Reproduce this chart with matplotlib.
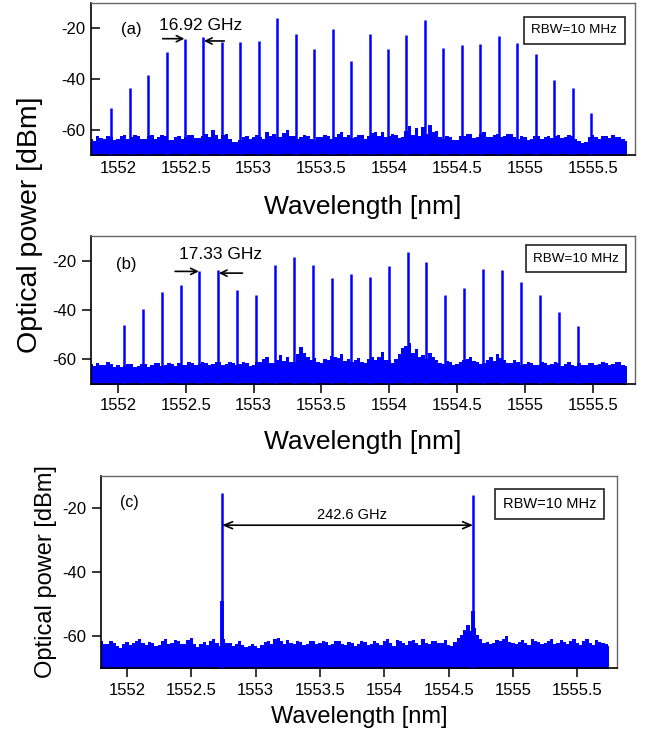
import numpy as np
import matplotlib
matplotlib.use("Agg")
import matplotlib.pyplot as plt

plt.rcParams['font.family'] = ['Liberation Sans', 'DejaVu Sans']

# comb lines, panel (a) 16.92 GHz spacing
peaks_a_nm = [1551.946, 1552.086, 1552.221, 1552.358, 1552.493, 1552.630, 1552.767,
              1552.902, 1553.039, 1553.174, 1553.311, 1553.446, 1553.583, 1553.718,
              1553.855, 1553.990, 1554.125, 1554.262, 1554.400, 1554.534, 1554.672,
              1554.806, 1554.944, 1555.081, 1555.216, 1555.353, 1555.488]
peaks_a_db = [-51.5, -43.6, -38.5, -29.3, -24.1, -23.4, -25.3, -25.3, -25.0, -16.0,
              -22.1, -28.3, -20.1, -33.0, -22.4, -28.1, -22.8, -16.8, -27.7, -26.4,
              -26.1, -23.2, -25.7, -30.3, -40.5, -43.6, -53.6]

# panel (b) 17.33 GHz spacing
peaks_b_nm = [1552.044, 1552.184, 1552.323, 1552.462, 1552.600, 1552.741, 1552.881,
              1553.018, 1553.157, 1553.297, 1553.436, 1553.578, 1553.718, 1553.857,
              1553.995, 1554.135, 1554.274, 1554.414, 1554.553, 1554.690, 1554.832,
              1554.971, 1555.111, 1555.250, 1555.390]
peaks_b_db = [-46.0, -39.7, -32.9, -30.1, -24.2, -23.9, -32.1, -34.1, -21.9, -18.7,
              -22.0, -27.0, -25.3, -26.5, -22.2, -16.6, -20.7, -34.1, -31.2, -23.4,
              -23.9, -28.8, -33.9, -40.7, -46.5]

# panel (c) two lines 242.6 GHz apart
peaks_c_nm = [1552.739, 1554.690]
peaks_c_db = [-15.3, -15.7]
pedestal_c_db = [-49.0, -52.0]

# noise floor (top of trace) on a 0.025 nm grid, 1551.80 ... 1555.75
noise_a = [-63.5, -64.6, -62.3, -63.2, -63.8, -62.4, -62.8, -64.2, -63.5, -62.6,
           -62.0, -63.6, -63.0, -62.1, -62.5, -63.8, -63.5, -62.4, -62.2, -63.5,
           -63.0, -62.0, -62.4, -63.9, -64.0, -62.8, -62.6, -63.7, -63.0, -62.2,
           -62.0, -63.4, -63.2, -62.5, -61.5, -62.8, -60.0, -62.2, -63.5, -62.0,
           -61.5, -63.8, -64.8, -65.0, -64.0, -62.8, -62.5, -63.6, -63.0, -62.0,
           -62.8, -63.5, -61.0, -62.4, -61.8, -63.0, -63.0, -61.4, -60.0, -62.6,
           -62.5, -63.6, -63.0, -62.2, -62.5, -63.5, -64.0, -63.0, -63.0, -62.0,
           -62.5, -63.6, -62.8, -61.8, -61.0, -62.8, -62.0, -63.4, -63.0, -62.0,
           -62.0, -63.5, -62.5, -61.2, -60.8, -62.4, -61.0, -62.8, -62.5, -61.8,
           -62.0, -63.4, -63.0, -60.5, -58.5, -62.0, -59.5, -62.5, -59.0, -61.5,
           -58.0, -61.0, -60.5, -62.8, -63.5, -62.5, -62.8, -63.9, -64.0, -62.6,
           -62.5, -61.6, -61.5, -63.2, -62.8, -61.6, -61.0, -62.9, -63.0, -62.0,
           -61.5, -63.0, -62.5, -61.6, -61.8, -63.0, -63.5, -62.4, -63.0, -63.9,
           -63.5, -62.4, -62.5, -63.5, -63.0, -62.3, -63.2, -62.4, -62.0, -63.3,
           -63.0, -62.2, -62.5, -63.8, -64.5, -65.2, -65.0, -63.0, -62.0, -63.0,
           -63.5, -62.4, -62.5, -63.4, -62.0, -62.8, -63.0, -63.6, -64.5]
noise_b = [-62.0, -63.0, -61.5, -62.6, -62.3, -61.4, -62.0, -63.2, -62.5, -63.4,
           -63.0, -62.2, -62.0, -63.3, -62.8, -62.0, -62.0, -63.1, -62.5, -61.6,
           -61.8, -62.9, -62.6, -61.8, -62.0, -63.0, -61.5, -62.4, -62.5, -61.2,
           -61.5, -62.6, -62.2, -61.4, -61.6, -62.5, -62.0, -61.2, -61.0, -62.3,
           -62.0, -61.0, -61.5, -62.4, -62.2, -61.3, -61.8, -62.7, -62.5, -61.0,
           -61.2, -60.0, -59.0, -61.6, -61.5, -60.2, -58.5, -60.8, -59.0, -61.2,
           -61.0, -58.0, -55.0, -57.5, -59.0, -60.4, -59.5, -61.2, -61.5, -59.8,
           -60.5, -58.8, -59.0, -59.5, -58.0, -60.6, -60.0, -61.4, -60.5, -59.5,
           -61.0, -61.6, -60.0, -59.2, -60.5, -59.0, -57.0, -60.2, -60.5, -61.5,
           -60.0, -58.0, -55.5, -54.5, -53.5, -57.5, -56.0, -59.0, -58.5, -60.0,
           -57.5, -59.0, -60.5, -61.8, -62.0, -60.8, -61.0, -62.3, -62.0, -61.2,
           -60.5, -59.8, -59.0, -60.6, -61.0, -62.2, -61.5, -60.2, -59.0, -60.8,
           -58.0, -59.5, -60.5, -61.8, -61.5, -60.4, -61.0, -62.4, -62.0, -61.0,
           -61.5, -62.6, -62.5, -61.4, -61.5, -62.6, -62.0, -61.0, -61.5, -62.8,
           -62.0, -61.2, -62.5, -63.0, -61.5, -62.6, -62.5, -61.6, -61.5, -62.6,
           -62.0, -61.0, -61.5, -62.4, -62.0, -61.4, -61.2, -62.3, -63.0]
noise_c = [-61.5, -62.6, -62.5, -61.4, -62.0, -63.0, -63.8, -62.4, -61.8, -62.9,
           -62.2, -61.5, -60.8, -62.3, -62.8, -61.8, -62.3, -63.2, -62.8, -61.6,
           -61.0, -62.4, -62.2, -61.2, -61.5, -62.6, -62.5, -61.3, -60.5, -62.4,
           -63.5, -62.6, -61.8, -62.8, -61.5, -60.8, -62.0, -63.0, -61.0, -62.2,
           -62.0, -63.0, -62.5, -61.6, -62.8, -63.5, -63.0, -62.4, -63.2, -63.6,
           -62.8, -61.8, -61.5, -62.5, -61.0, -60.6, -61.5, -62.4, -61.2, -62.0,
           -62.5, -61.4, -61.8, -62.8, -62.5, -61.5, -61.5, -62.6, -62.3, -61.4,
           -61.8, -62.7, -62.5, -61.6, -61.5, -62.4, -62.8, -61.8, -62.0, -63.0,
           -62.5, -61.5, -61.8, -62.8, -62.5, -61.6, -62.0, -62.9, -61.5, -60.8,
           -62.3, -63.0, -61.2, -61.5, -62.0, -62.8, -61.5, -61.2, -62.2, -62.8,
           -61.0, -62.0, -62.5, -61.4, -61.5, -62.3, -62.0, -61.2, -62.8, -63.2,
           -61.8, -60.5, -59.5, -58.0, -56.5, -58.5, -57.5, -59.5, -61.0, -62.0,
           -61.8, -62.6, -62.0, -61.3, -61.5, -61.0, -60.0, -61.8, -62.0, -62.6,
           -61.8, -61.2, -62.2, -62.8, -61.0, -61.6, -61.8, -62.6, -62.2, -61.5,
           -61.0, -62.4, -62.0, -61.2, -61.8, -62.5, -61.5, -60.8, -62.0, -62.8,
           -61.5, -61.0, -62.3, -62.7, -61.2, -61.8, -62.0, -62.6, -63.0]

xticks = [1552, 1552.5, 1553, 1553.5, 1554, 1554.5, 1555, 1555.5]
xtick_labels = ['1552', '1552.5', '1553', '1553.5', '1554', '1554.5', '1555', '1555.5']
yticks = [-20, -40, -60]
yticks_labels = ['-20', '-40', '-60']


def style_axes(ax, tick_dir):
    ax.set_xlim(1551.80, 1555.81)
    ax.set_ylim(-70, -10)
    ax.set_xticks(xticks)
    ax.set_xticklabels(xtick_labels)
    ax.set_yticks(yticks)
    ax.set_yticklabels(yticks_labels)
    ax.tick_params(direction=tick_dir, length=6.5, width=1.1, labelsize=12, pad=4,
                   top=False, right=False)
    for side in ['top', 'right']:
        ax.spines[side].set_color('#666666')
        ax.spines[side].set_linewidth(1.0)
    for side in ['left', 'bottom']:
        ax.spines[side].set_color('black')
        ax.spines[side].set_linewidth(1.2)


def draw_trace(ax, peak_nm, peak_db, noise):
    nm = np.linspace(1551.80, 1555.75, len(noise))
    ax.fill_between(nm, -75, noise, step='mid', color='blue', lw=0, zorder=2)
    ax.vlines(peak_nm, -70, peak_db, color='blue', lw=1.8, zorder=3)


def rbw_box(ax, x, y, size):
    ax.text(x, y, 'RBW=10 MHz', transform=ax.transAxes, ha='center', va='center',
            fontsize=size, zorder=5,
            bbox=dict(boxstyle='square,pad=0.55', fc='white', ec='#222222', lw=1.2))


fig = plt.figure(figsize=(6.49, 7.35), dpi=100)
ax_a = fig.add_axes([0.140, 0.789, 0.838, 0.207])
ax_b = fig.add_axes([0.140, 0.478, 0.838, 0.201])
ax_c = fig.add_axes([0.156, 0.091, 0.795, 0.261])

arrow = dict(arrowstyle='->,head_length=0.45,head_width=0.22', color='black', lw=1.2,
             shrinkA=0, shrinkB=0)

# (a)
draw_trace(ax_a, peaks_a_nm, peaks_a_db, noise_a)
style_axes(ax_a, 'in')
ax_a.set_xlabel('Wavelength [nm]', fontsize=19, labelpad=14)
ax_a.text(1552.10, -20.4, '(a)', ha='center', va='center', fontsize=12)
ax_a.text(1552.613, -18.7, '16.92 GHz', ha='center', va='center', fontsize=12.5)
ax_a.annotate('', xy=(1552.49, -24.1), xytext=(1552.33, -24.1), arrowprops=arrow)
ax_a.annotate('', xy=(1552.634, -25.0), xytext=(1552.784, -25.0), arrowprops=arrow)
rbw_box(ax_a, 0.889, 0.819, 9.7)

# (b)
draw_trace(ax_b, peaks_b_nm, peaks_b_db, noise_b)
style_axes(ax_b, 'out')
ax_b.set_xlabel('Wavelength [nm]', fontsize=19, labelpad=12)
ax_b.text(1552.06, -21.75, '(b)', ha='center', va='center', fontsize=12)
ax_b.text(1552.759, -17.7, '17.33 GHz', ha='center', va='center', fontsize=12.5)
ax_b.annotate('', xy=(1552.596, -24.4), xytext=(1552.421, -24.4), arrowprops=arrow)
ax_b.annotate('', xy=(1552.744, -25.1), xytext=(1552.918, -25.1), arrowprops=arrow)
rbw_box(ax_b, 0.892, 0.845, 9.7)

# (c)
draw_trace(ax_c, peaks_c_nm, peaks_c_db, noise_c)
ax_c.vlines(peaks_c_nm, -70, pedestal_c_db, color='blue', lw=2.8, zorder=3)
style_axes(ax_c, 'out')
ax_c.set_xlabel('Wavelength [nm]', fontsize=17, labelpad=6)
ax_c.text(1552.02, -18.1, '(c)', ha='center', va='center', fontsize=11.5)
ax_c.text(1553.75, -22.0, '242.6 GHz', ha='center', va='center', fontsize=10.5)
ax_c.annotate('', xy=(peaks_c_nm[0], -25.3), xytext=(peaks_c_nm[1], -25.3),
              arrowprops=dict(arrowstyle='<->,head_length=0.6,head_width=0.25',
                              color='black', lw=1.2, shrinkA=0, shrinkB=0))
rbw_box(ax_c, 0.869, 0.857, 10.5)

fig.text(30 / 649, 1 - 225 / 735, 'Optical power [dBm]', rotation=90,
         ha='center', va='center', fontsize=20.5)
fig.text(46 / 649, 1 - 572 / 735, 'Optical power [dBm]', rotation=90,
         ha='center', va='center', fontsize=17)

fig.savefig('out.png', dpi=100)
